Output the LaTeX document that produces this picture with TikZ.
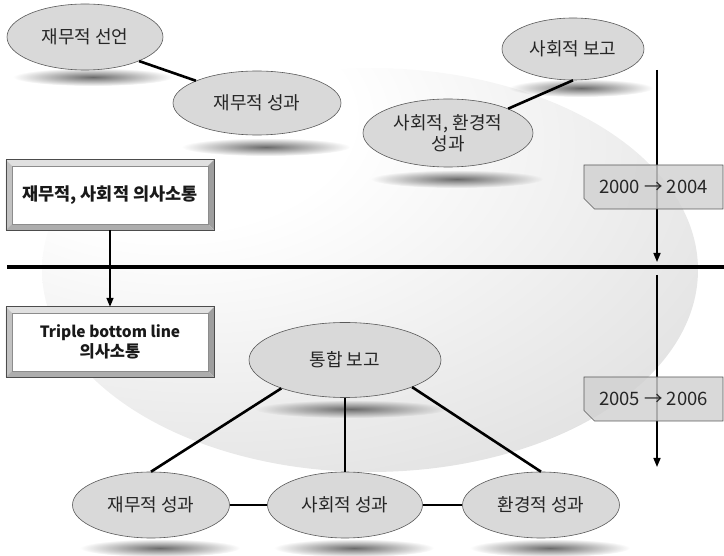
\documentclass[tikz,border=0pt]{standalone}
\usepackage{fontspec}
\setmainfont{Noto Sans CJK KR}
\usetikzlibrary{shapes.geometric,shapes.misc,fadings,calc,arrows.meta}

% soft light spot in the upper left of the backdrop
\pgfdeclareradialshading{bgglow}{\pgfpoint{-18bp}{22bp}}{%
  color(0bp)=(white); color(14bp)=(white); color(70bp)=(black!22); color(100bp)=(black!22)}
\tikzfading[name=softshadow, inner color=transparent!0, outer color=transparent!100]

% blurred drop shadow under an oval: centre x, centre y, half width
\newcommand\ovalshadow[3]{%
  \fill[black!58, path fading=softshadow] (#1,#2) ellipse [x radius=#3pt, y radius=9pt];}

% bevelled frame around a rectangular node
\newcommand\bevelframe[1]{%
  \fill[black!12] (#1.north west) -- (#1.north east) -- ([xshift=-6pt,yshift=-6pt]#1.north east) -- ([xshift=6pt,yshift=-6pt]#1.north west) -- cycle;
  \fill[black!24] (#1.north west) -- (#1.south west) -- ([xshift=6pt,yshift=6pt]#1.south west) -- ([xshift=6pt,yshift=-6pt]#1.north west) -- cycle;
  \fill[black!38] (#1.north east) -- (#1.south east) -- ([xshift=-6pt,yshift=6pt]#1.south east) -- ([xshift=-6pt,yshift=-6pt]#1.north east) -- cycle;
  \fill[black!32] (#1.south west) -- (#1.south east) -- ([xshift=-6pt,yshift=6pt]#1.south east) -- ([xshift=6pt,yshift=6pt]#1.south west) -- cycle;
  \draw[black!70, line width=0.6pt] (#1.north west) rectangle (#1.south east);
  \draw[black!45, line width=0.4pt] ([xshift=6pt,yshift=-6pt]#1.north west) rectangle ([xshift=-6pt,yshift=6pt]#1.south east);}

\begin{document}
\begin{tikzpicture}[x=1pt, y=-1pt,
  oval/.style={ellipse, draw=black!65, line width=0.6pt, fill=black!15, inner sep=0pt,
    text=black!85, align=center, font=\fontsize{18}{21}\selectfont},
  panel/.style={rectangle, fill=white, inner sep=0pt, minimum width=208pt, minimum height=70pt,
    text=black!90, align=center, font=\bfseries\fontsize{16.5}{20}\selectfont},
  yearbox/.style={chamfered rectangle, chamfered rectangle corners=south west,
    chamfered rectangle xsep=7pt, draw=black!65, line width=0.6pt,
    fill=black!18, fill opacity=0.82, text opacity=1, inner sep=0pt,
    minimum width=139pt, minimum height=44pt, text=black!85,
    font=\fontsize{18.5}{21}\selectfont},
  link/.style={line width=2.6pt, black},
  flow/.style={line width=1.6pt, black, -{Triangle[length=9pt,width=7pt]}}]

\useasboundingbox (0,0) rectangle (724,556);

% backdrop
\shade[shading=bgglow] (370,270) ellipse [x radius=328pt, y radius=202pt];

% shadows under the ovals
\ovalshadow{93}{77}{80}
\ovalshadow{266}{147}{84}
\ovalshadow{581}{88}{72}
\ovalshadow{457}{179}{86}
\ovalshadow{351}{409}{96}
\ovalshadow{160}{548}{80}
\ovalshadow{354}{548}{80}
\ovalshadow{550}{548}{80}

% period divider
\coordinate (divL) at (7,267);
\coordinate (divR) at (724,267);
\draw[line width=3.5pt] (divL) -- (divR);

% timeline
\coordinate (t1a) at (657,70);
\coordinate (t1b) at (657,262);
\coordinate (t2a) at (657,275);
\coordinate (t2b) at (657,467);
\draw[flow] (t1a) -- (t1b);
\draw[flow] (t2a) -- (t2b);

% ovals
\node[oval, minimum width=156pt, minimum height=66pt] (decl) at (85,37) {재무적 선언};
\node[oval, minimum width=168pt, minimum height=64pt] (fin1) at (257,103) {재무적 성과};
\node[oval, minimum width=142pt, minimum height=62pt] (socrep) at (573,49) {사회적 보고};
\node[oval, minimum width=170pt, minimum height=68pt] (socenv) at (448,133) {사회적, 환경적\\성과};
\node[oval, minimum width=192pt, minimum height=75pt] (integ) at (345,360) {통합 보고};
\node[oval, minimum width=157pt, minimum height=66pt] (fin2) at (151,505) {재무적 성과};
\node[oval, minimum width=155pt, minimum height=66pt] (soc2) at (345,505) {사회적 성과};
\node[oval, minimum width=157pt, minimum height=66pt] (env2) at (541,505) {환경적 성과};

% connectors
\draw[link] (decl.-24) -- (fin1.160);
\draw[link] (socrep.south) -- (socenv.22);
\draw[link] (integ.204) -- (fin2.north);
\draw[link] (integ.south) -- (soc2.north);
\draw[link] (integ.-22) -- (env2.north);
\draw[link] (fin2.east) -- (soc2.west);
\draw[link] (soc2.east) -- (env2.west);

% communication panels
\node[panel, font=\bfseries\fontsize{17.5}{20}\selectfont] (comm1) at (110,195) {재무적, 사회적 의사소통};
\bevelframe{comm1}
\node[panel] (comm2) at (110,342) {{\fontsize{15.5}{20}\selectfont Triple bottom line}\\의사소통};
\bevelframe{comm2}
\draw[flow] (comm1.south) -- (comm2.north);

% period labels
\node[yearbox] (y1) at (653.5,187) {2000 → 2004};
\node[yearbox] (y2) at (653.5,399) {2005 → 2006};

\end{tikzpicture}
\end{document}
